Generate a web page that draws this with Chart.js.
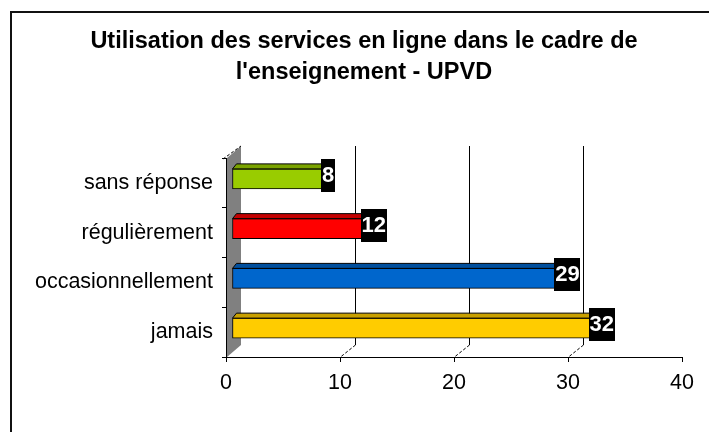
<!DOCTYPE html>
<html>
<head>
<meta charset="utf-8">
<script src="https://cdn.jsdelivr.net/npm/chart.js@4.4.1/dist/chart.umd.min.js"></script>
<style>
  html, body { margin: 0; padding: 0; background: #fff; }
  canvas { display: block; }
</style>
</head>
<body>
<canvas id="chart" width="709" height="432"></canvas>
<script>
const titleLines = ['Utilisation des services en ligne dans le cadre de', "l'enseignement - UPVD"];
const categories = ['sans réponse', 'régulièrement', 'occasionnellement', 'jamais'];
const values = [8, 12, 29, 32];
const frontColors = ['#99cc00', '#ff0000', '#0066cc', '#ffcc00'];
const topColors = ['#7aa300', '#c40000', '#004f9e', '#c9a000'];
const xTicks = [0, 10, 20, 30, 40];

const FONT = "'Liberation Sans', Arial, sans-serif";
Chart.defaults.font.family = FONT;
Chart.defaults.color = '#000';

// wall depth and bar depth (3D look of the original)
const wall = { dx: 15, dy: 12 };
const bar = { dx: 4, dy: 5, sx: 6, sy: -4 };

const frame = {
  id: 'frame',
  afterLayout(chart) {
    // let the long category labels use the room left of the axis
    chart.scales.y.left = 0;
  },
  beforeDraw(chart) {
    const ctx = chart.ctx;
    ctx.save();
    ctx.strokeStyle = '#111';
    ctx.lineWidth = 2;
    ctx.beginPath();
    ctx.moveTo(11, 432);
    ctx.lineTo(11, 12);
    ctx.lineTo(709, 12);
    ctx.stroke();
    ctx.restore();
  }
};

const depth3d = {
  id: 'depth3d',
  beforeDatasetsDraw(chart) {
    const { ctx, chartArea: a, scales: { x } } = chart;
    ctx.save();
    // grey side wall
    ctx.fillStyle = '#808080';
    ctx.beginPath();
    ctx.moveTo(a.left + 1, a.top);
    ctx.lineTo(a.left + wall.dx, a.top - wall.dy);
    ctx.lineTo(a.left + wall.dx, a.bottom - wall.dy);
    ctx.lineTo(a.left + 1, a.bottom);
    ctx.closePath();
    ctx.fill();
    // dashed top edge of the wall
    ctx.strokeStyle = '#000';
    ctx.lineWidth = 1;
    ctx.setLineDash([3, 2]);
    ctx.beginPath();
    ctx.moveTo(a.left - 3, a.top + 1);
    ctx.lineTo(a.left + wall.dx, a.top - wall.dy);
    ctx.stroke();
    // back gridlines + dashed floor links
    xTicks.slice(1, -1).forEach(v => {
      const px = Math.round(x.getPixelForValue(v)) + 0.5;
      ctx.setLineDash([]);
      ctx.beginPath();
      ctx.moveTo(px + wall.dx, a.top - wall.dy);
      ctx.lineTo(px + wall.dx, a.bottom - wall.dy);
      ctx.stroke();
      ctx.setLineDash([3, 2]);
      ctx.beginPath();
      ctx.moveTo(px + wall.dx, a.bottom - wall.dy);
      ctx.lineTo(px, a.bottom);
      ctx.stroke();
    });
    ctx.restore();
    ctx.save();
    ctx.translate(bar.sx, bar.sy);
  },
  afterDatasetsDraw(chart) {
    const ctx = chart.ctx;
    const meta = chart.getDatasetMeta(0);
    ctx.lineWidth = 1;
    ctx.strokeStyle = '#000';
    meta.data.forEach((el, i) => {
      const p = el.getProps(['x', 'y', 'base', 'height'], true);
      const l = p.base, r = p.x, t = p.y - p.height / 2, b = p.y + p.height / 2;
      // top face
      ctx.fillStyle = topColors[i];
      ctx.beginPath();
      ctx.moveTo(l, t);
      ctx.lineTo(l + bar.dx, t - bar.dy);
      ctx.lineTo(r + bar.dx, t - bar.dy);
      ctx.lineTo(r, t);
      ctx.closePath();
      ctx.fill();
      ctx.stroke();
      // side face
      ctx.beginPath();
      ctx.moveTo(r, t);
      ctx.lineTo(r + bar.dx, t - bar.dy);
      ctx.lineTo(r + bar.dx, b - bar.dy);
      ctx.lineTo(r, b);
      ctx.closePath();
      ctx.fill();
      ctx.stroke();
    });
    // value labels
    ctx.font = 'bold 22px ' + FONT;
    ctx.textAlign = 'center';
    ctx.textBaseline = 'middle';
    meta.data.forEach((el, i) => {
      const p = el.getProps(['x', 'y'], true);
      const txt = String(values[i]);
      const w = ctx.measureText(txt).width + 2;
      const cx = p.x + 5, cy = p.y - 4;
      ctx.fillStyle = '#000';
      ctx.fillRect(Math.round(cx - w / 2), Math.round(cy - 16), Math.round(w), 33);
      ctx.fillStyle = '#fff';
      ctx.fillText(txt, cx, cy + 1);
    });
    ctx.restore();
  }
};

new Chart(document.getElementById('chart'), {
  type: 'bar',
  data: {
    labels: categories,
    datasets: [{
      data: values,
      backgroundColor: frontColors,
      borderColor: '#000',
      borderWidth: 1,
      borderSkipped: false,
      barThickness: 20
    }]
  },
  options: {
    indexAxis: 'y',
    responsive: false,
    animation: false,
    events: [],
    layout: { padding: { left: 46, right: 27, top: 0, bottom: 0 } },
    plugins: {
      legend: { display: false },
      tooltip: { enabled: false },
      title: {
        display: true,
        text: titleLines,
        color: '#000',
        font: { size: 23.5, weight: 'bold', lineHeight: 1.33 },
        padding: { top: 26, bottom: 69.5 }
      }
    },
    scales: {
      x: {
        min: 0,
        max: 40,
        afterBuildTicks(scale) { scale.ticks = xTicks.map(v => ({ value: v })); },
        afterFit(scale) { scale.height = 432 - 357; },
        grid: { drawOnChartArea: false, drawTicks: true, tickLength: 5, color: '#000' },
        border: { display: true, color: '#000', width: 1 },
        ticks: { font: { size: 21.5 }, color: '#000', padding: 8, maxRotation: 0 }
      },
      y: {
        afterFit(scale) { scale.width = 226 - 46; },
        grid: { drawOnChartArea: false, drawTicks: true, tickLength: 4, color: '#000', offset: true },
        border: { display: true, color: '#000', width: 1 },
        ticks: { font: { size: 21.5 }, color: '#000', padding: 9 }
      }
    }
  },
  plugins: [frame, depth3d]
});
</script>
</body>
</html>
